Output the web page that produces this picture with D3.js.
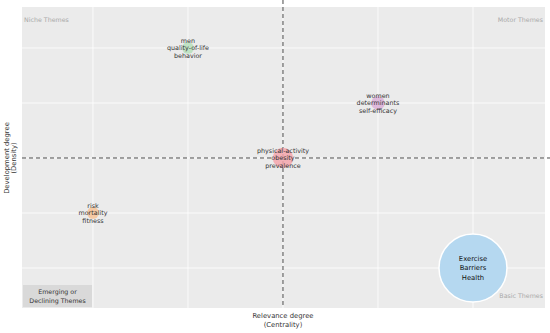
<!DOCTYPE html>
<html>
<head>
<meta charset="utf-8">
<script src="https://cdn.jsdelivr.net/npm/d3@7"></script>
<style>
  body { margin: 0; background: #fff; }
  svg { display: block; font-family: "DejaVu Sans", Verdana, sans-serif; }
</style>
</head>
<body>
<div id="chart"></div>
<script>
// themes (label lines), centrality, density and bubble size
const themes = [
    ["men", "quality-of-life", "behavior"],
    ["women", "determinants", "self-efficacy"],
    ["physical-activity", "obesity", "prevalence"],
    ["risk", "mortality", "fitness"],
    ["Exercise", "Barriers", "Health"]
];
const centrality = [-1, 1, 0, -2, 2];
const density = [2, 1, 0, -1, -2];
const bubbleSize = [3, 4, 9, 3, 100];
const bubbleColors = ["#b6dfbb", "#dcb0d8", "#f5a6ad", "#f7c396", "#b5d8f0"];
const gridTicks = [-2, -1, 0, 1, 2];

const data = themes.map((t, i) => ({
    lines: t,
    x: centrality[i],
    y: density[i],
    size: bubbleSize[i],
    color: bubbleColors[i]
}));

const width = 550, height = 333;
const panel = { left: 22, right: 545, top: 7, bottom: 308 };

const svg = d3.select("#chart").append("svg")
    .attr("width", width)
    .attr("height", height);

const xScale = d3.scaleLinear()
    .domain([-2.747, 2.758])
    .range([panel.left, panel.right]);

const yScale = d3.scaleLinear()
    .domain([-2.727, 2.745])
    .range([panel.bottom, panel.top]);

const rScale = d3.scaleSqrt()
    .domain([0, d3.max(bubbleSize)])
    .range([0, 34]);

// panel background
svg.append("rect")
    .attr("x", panel.left)
    .attr("y", panel.top)
    .attr("width", panel.right - panel.left)
    .attr("height", panel.bottom - panel.top)
    .style("fill", "#ebebeb");

// grid
svg.append("g").selectAll("line")
    .data(gridTicks)
    .enter().append("line")
    .attr("x1", d => xScale(d)).attr("x2", d => xScale(d))
    .attr("y1", panel.top).attr("y2", panel.bottom)
    .style("stroke", "#fff").style("stroke-width", 0.8);

svg.append("g").selectAll("line")
    .data(gridTicks)
    .enter().append("line")
    .attr("y1", d => yScale(d)).attr("y2", d => yScale(d))
    .attr("x1", panel.left).attr("x2", panel.right)
    .style("stroke", "#fff").style("stroke-width", 0.8);

// mean lines
svg.append("line")
    .attr("x1", xScale(0)).attr("x2", xScale(0))
    .attr("y1", 0).attr("y2", panel.bottom)
    .style("stroke", "#4a4a4a").style("stroke-width", 1)
    .style("stroke-dasharray", "4 3");

svg.append("line")
    .attr("x1", panel.left).attr("x2", width)
    .attr("y1", yScale(0)).attr("y2", yScale(0))
    .style("stroke", "#4a4a4a").style("stroke-width", 1)
    .style("stroke-dasharray", "4 3");

// bubbles
const bubbles = svg.append("g").selectAll("g")
    .data(data)
    .enter().append("g")
    .attr("transform", d => `translate(${xScale(d.x)},${yScale(d.y)})`);

bubbles.append("circle")
    .attr("r", d => rScale(d.size))
    .style("fill", d => d.color)
    .style("fill-opacity", d => d.size > 50 ? 1 : 0.85)
    .style("stroke", d => d.size > 50 ? "#fff" : "none")
    .style("stroke-width", 1.5);

bubbles.each(function(d) {
    const big = d.size > 50;
    const step = big ? 9.7 : 7.6;
    d3.select(this).selectAll("text")
        .data(d.lines)
        .enter().append("text")
        .attr("text-anchor", "middle")
        .attr("dy", "0.35em")
        .attr("y", (l, i) => (i - 1) * step)
        .style("font-size", big ? "6.8px" : "6.4px")
        .style("fill", big ? "#111" : "#333")
        .text(l => l);
});

// quadrant labels
const quad = svg.append("g")
    .style("font-size", "6.3px")
    .style("fill", "#a9a9a9");

quad.append("text").attr("x", 24).attr("y", 22).text("Niche Themes");
quad.append("text").attr("x", 543).attr("y", 22)
    .attr("text-anchor", "end").text("Motor Themes");
quad.append("text").attr("x", 543).attr("y", 298)
    .attr("text-anchor", "end").text("Basic Themes");

svg.append("rect")
    .attr("x", 23).attr("y", 285)
    .attr("width", 69).attr("height", 22)
    .style("fill", "#d9d9d9");

svg.append("text")
    .attr("x", 57.5).attr("y", 293.5)
    .attr("text-anchor", "middle")
    .style("font-size", "6.3px").style("fill", "#333")
    .text("Emerging or");
svg.append("text")
    .attr("x", 57.5).attr("y", 302.5)
    .attr("text-anchor", "middle")
    .style("font-size", "6.3px").style("fill", "#333")
    .text("Declining Themes");

// axis titles
svg.append("text")
    .attr("x", xScale(0)).attr("y", 317.5)
    .attr("text-anchor", "middle")
    .style("font-size", "6.8px").style("fill", "#333")
    .text("Relevance degree");
svg.append("text")
    .attr("x", xScale(0)).attr("y", 326.5)
    .attr("text-anchor", "middle")
    .style("font-size", "6.8px").style("fill", "#333")
    .text("(Centrality)");

svg.append("text")
    .attr("transform", `translate(8.5,${yScale(0)}) rotate(-90)`)
    .attr("text-anchor", "middle")
    .style("font-size", "6.8px").style("fill", "#333")
    .text("Development degree");
svg.append("text")
    .attr("transform", `translate(16,${yScale(0)}) rotate(-90)`)
    .attr("text-anchor", "middle")
    .style("font-size", "6.8px").style("fill", "#333")
    .text("(Density)");
</script>
</body>
</html>
